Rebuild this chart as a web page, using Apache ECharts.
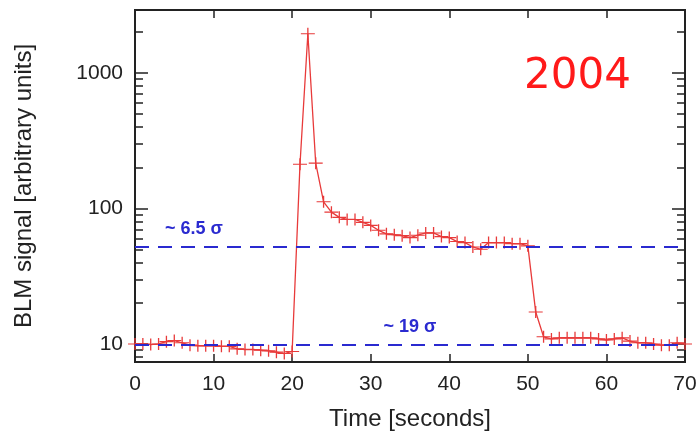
<!DOCTYPE html>
<html>
<head>
<meta charset="utf-8">
<script src="https://cdn.jsdelivr.net/npm/echarts@6/dist/echarts.min.js"></script>
<style>html,body{margin:0;padding:0;background:#fff;}#c{width:700px;height:438px;}</style>
</head>
<body>
<div id="c"></div>
<script>
// Data
var times = [0,1,2,3,4,5,6,7,8,9,10,11,12,13,14,15,16,17,18,19,20,21,22,23,24,25,26,27,28,29,30,31,32,33,34,35,36,37,38,39,40,41,42,43,44,45,46,47,48,49,50,51,52,53,54,55,56,57,58,59,60,61,62,63,64,65,66,67,68,69,70];
var blmSignal = [10.0,10.0,9.9,10.0,10.4,10.6,10.2,9.8,9.7,9.7,9.7,9.6,9.6,9.2,9.1,9.1,9.0,8.9,8.7,8.5,8.8,212,1950,216,112,94,86,83,83,79,75,69,65,64,63,61,63.5,66,66,62,61,57,56,52,50,56,56,56,55,55,53,17.2,11.3,10.9,11.1,11.1,11.1,11.1,11.1,10.9,10.7,10.9,11.1,10.5,10.2,10.2,10.0,9.8,9.8,10.2,10.0];
var thresholdValues = [52, 9.8];
var thresholdLabels = ['~ 6.5 \u03c3', '~ 19 \u03c3'];
var yMajorTicks = [10, 100, 1000];
var yMinorTicks = [8, 9, 20, 30, 40, 50, 60, 70, 80, 90, 200, 300, 400, 500, 600, 700, 800, 900, 2000];
var xTicks = [10, 20, 30, 40, 50, 60];
var yearLabel = '2004';

var FONT = '"Liberation Sans", Arial, Helvetica, sans-serif';
var Y_MIN = 7.36, Y_MAX = 2918;

var chart = echarts.init(document.getElementById('c'), null, {renderer: 'canvas'});

function yAx(pos, values, len, withLabels) {
  var ax = {
    type: 'log', logBase: 10, min: Y_MIN, max: Y_MAX, position: pos,
    axisLine: {show: false, onZero: false},
    splitLine: {show: false},
    axisTick: {show: true, inside: true, length: len, customValues: values, lineStyle: {color: '#222', width: 1.5}},
    axisLabel: {show: false}
  };
  if (withLabels) {
    ax.axisLabel = {show: true, customValues: yMajorTicks, fontSize: 21, color: '#222', fontFamily: FONT, margin: 12,
      formatter: function (v) { return String(Math.round(v)); }};
    ax.name = 'BLM signal [arbitrary units]';
    ax.nameLocation = 'middle';
    ax.nameRotate = 90;
    ax.nameGap = 99;
    ax.nameTextStyle = {fontSize: 24, color: '#222', fontFamily: FONT};
  }
  return ax;
}
function xAx(pos, withLabels) {
  var ax = {
    type: 'value', min: 0, max: 70, interval: 10, position: pos,
    axisLine: {show: false, onZero: false}, splitLine: {show: false},
    axisTick: {show: true, inside: true, length: 8, customValues: xTicks, lineStyle: {color: '#222', width: 1.5}},
    axisLabel: {show: false}
  };
  if (withLabels) {
    ax.axisLabel = {show: true, fontSize: 21, color: '#222', fontFamily: FONT, margin: 12};
    ax.name = 'Time [seconds]';
    ax.nameLocation = 'middle';
    ax.nameGap = 45;
    ax.nameTextStyle = {fontSize: 24, color: '#222', fontFamily: FONT};
  }
  return ax;
}

var seriesData = times.map(function (t, i) { return [t, blmSignal[i]]; });

var option = {
  backgroundColor: '#fff',
  animation: false,
  grid: {left: 135, right: 15, top: 10, bottom: 76, containLabel: false,
    show: true, borderColor: '#222', borderWidth: 2, backgroundColor: 'transparent'},
  title: {
    text: yearLabel, right: 64, top: 51,
    textStyle: {color: '#ff1a1a', fontSize: 42, fontWeight: 'normal', fontFamily: '"DejaVu Sans", sans-serif'}
  },
  xAxis: [xAx('bottom', true), xAx('top', false)],
  yAxis: [yAx('left', yMajorTicks, 13, true), yAx('left', yMinorTicks, 8, false),
          yAx('right', yMajorTicks, 13, false), yAx('right', yMinorTicks, 8, false)],
  series: [{
    type: 'line',
    xAxisIndex: 0, yAxisIndex: 0,
    data: seriesData,
    symbol: 'path://M0,6 L14,6 M7,0 L7,12',
    symbolSize: [14, 12],
    showAllSymbol: true,
    itemStyle: {color: 'rgba(0,0,0,0)', borderColor: '#e83a3a', borderWidth: 1.2},
    lineStyle: {color: '#e83a3a', width: 1.3},
    z: 3,
    markLine: {
      silent: true, symbol: ['none', 'none'],
      lineStyle: {color: '#2a2ad0', width: 2, type: [14, 9]},
      data: [
        {yAxis: thresholdValues[0], label: {show: true, formatter: thresholdLabels[0], position: 'insideStartTop', distance: [30, 9]}},
        {yAxis: thresholdValues[1], label: {show: true, formatter: thresholdLabels[1], position: 'insideMiddleTop', distance: [0, 9]}}
      ],
      label: {color: '#2a2ad0', fontSize: 18, fontWeight: 'bold', fontFamily: FONT}
    }
  }]
};
chart.setOption(option);
</script>
</body>
</html>
